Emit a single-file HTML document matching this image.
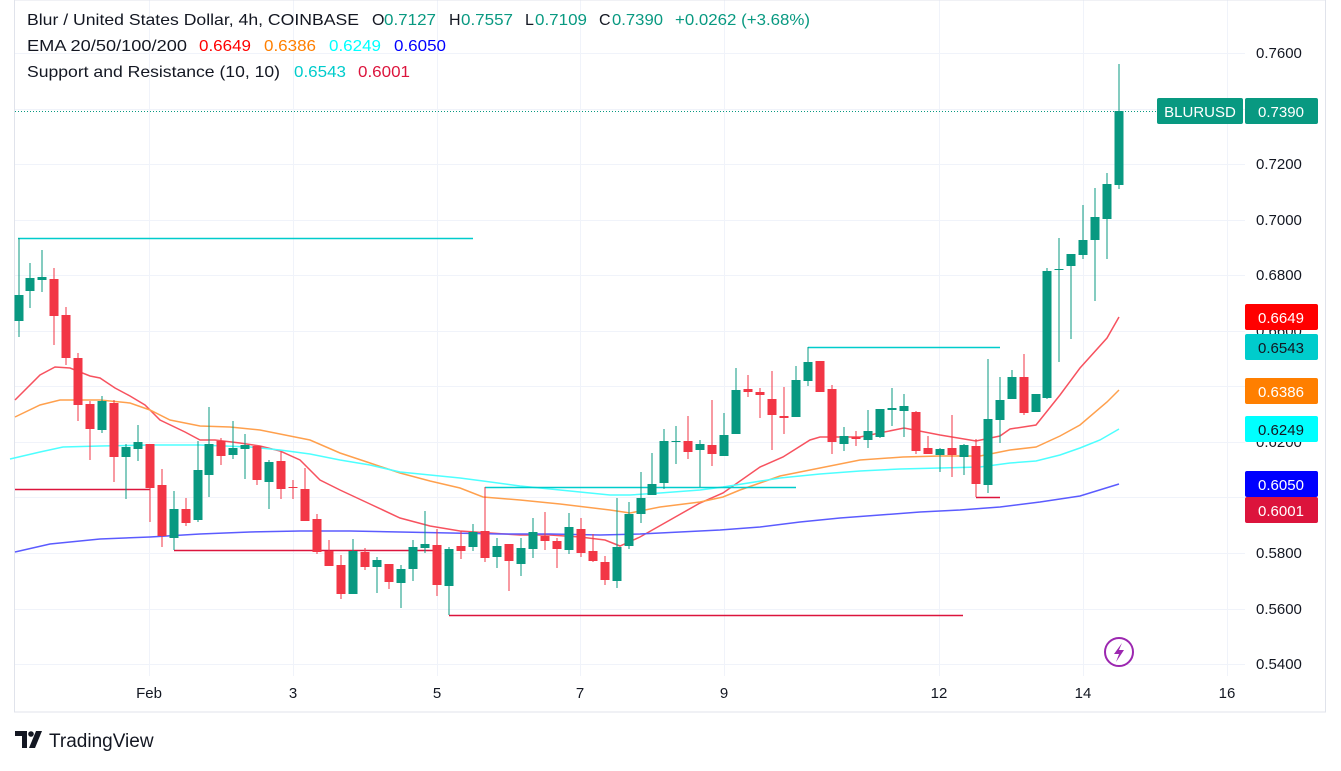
<!DOCTYPE html>
<html><head><meta charset="utf-8">
<style>
html,body{margin:0;padding:0;background:#fff;}
body{width:1341px;height:766px;overflow:hidden;font-family:"Liberation Sans",sans-serif;}
svg text{font-family:"Liberation Sans",sans-serif;}
</style></head>
<body>
<svg id="s" width="1341" height="766" xmlns="http://www.w3.org/2000/svg">
<rect x="0" y="0" width="1341" height="766" fill="#fff"/>
<g id="grid" stroke="#f0f3fa" stroke-width="1"></g>
<rect x="14.5" y="0" width="1311" height="712" fill="none" stroke="#e0e3eb"/>
<line x1="15" y1="111.5" x2="1157" y2="111.5" stroke="#089981" stroke-dasharray="1,2"/>
<g id="lines" fill="none" stroke-width="1.5"></g>
<g id="sr" stroke-width="1.5"></g>
<g id="candles"></g>
<g font-size="16" fill="#131722">
<text x="27" y="25" textLength="332" lengthAdjust="spacingAndGlyphs">Blur / United States Dollar, 4h, COINBASE</text>
<text x="372" y="25">O</text><text x="384" y="25" fill="#089981" textLength="52" lengthAdjust="spacingAndGlyphs">0.7127</text>
<text x="449" y="25">H</text><text x="461" y="25" fill="#089981" textLength="52" lengthAdjust="spacingAndGlyphs">0.7557</text>
<text x="525" y="25">L</text><text x="535" y="25" fill="#089981" textLength="52" lengthAdjust="spacingAndGlyphs">0.7109</text>
<text x="599" y="25">C</text><text x="612" y="25" fill="#089981" textLength="51" lengthAdjust="spacingAndGlyphs">0.7390</text>
<text x="675" y="25" fill="#089981" textLength="135" lengthAdjust="spacingAndGlyphs">+0.0262 (+3.68%)</text>
<text x="27" y="51" textLength="160" lengthAdjust="spacingAndGlyphs">EMA 20/50/100/200</text>
<text x="199" y="51" fill="#ff0000" textLength="52" lengthAdjust="spacingAndGlyphs">0.6649</text>
<text x="264" y="51" fill="#ff7f00" textLength="52" lengthAdjust="spacingAndGlyphs">0.6386</text>
<text x="329" y="51" fill="#00ffff" textLength="52" lengthAdjust="spacingAndGlyphs">0.6249</text>
<text x="394" y="51" fill="#0000ff" textLength="52" lengthAdjust="spacingAndGlyphs">0.6050</text>
<text x="27" y="77" textLength="253" lengthAdjust="spacingAndGlyphs">Support and Resistance (10, 10)</text>
<text x="294" y="77" fill="#00cccc" textLength="52" lengthAdjust="spacingAndGlyphs">0.6543</text>
<text x="358" y="77" fill="#dc143c" textLength="52" lengthAdjust="spacingAndGlyphs">0.6001</text>
</g>
<g id="axis" font-size="15" fill="#131722"></g>
<g font-size="15" fill="#131722" text-anchor="middle">
<text x="149" y="698">Feb</text><text x="293" y="698">3</text><text x="437" y="698">5</text><text x="580" y="698">7</text><text x="724" y="698">9</text><text x="939" y="698">12</text><text x="1083" y="698">14</text><text x="1227" y="698">16</text>
</g>
<rect x="1157" y="98" width="86" height="26" rx="2" fill="#089981"/>
<rect x="1245" y="98" width="73" height="26" rx="2" fill="#089981"/>
<text x="1200" y="117" font-size="15" fill="#fff" text-anchor="middle">BLURUSD</text>
<text x="1281" y="117" font-size="15" fill="#fff" text-anchor="middle">0.7390</text>
<g id="tags" font-size="15" text-anchor="middle"></g>
<circle cx="1119" cy="652" r="14" fill="#fff" stroke="#9c27b0" stroke-width="2"/>
<path d="M1122 643 L1114 654 L1119 654 L1116 662 L1124 650 L1119 650 Z" fill="#9c27b0"/>
<g transform="translate(15,731)" fill="#131722">
<path d="M0 0 H12 V17 H7 V5 H0 Z"/><circle cx="16" cy="3" r="2.8"/><path d="M21 0 H27 L20 17 H14 Z"/>
</g>
<text x="49" y="747" font-size="19" fill="#131722">TradingView</text>
</svg>
<script>
var NS="http://www.w3.org/2000/svg";
function el(p,t,a){var e=document.createElementNS(NS,t);for(var k in a)e.setAttribute(k,a[k]);p.appendChild(e);return e;}
var grid=document.getElementById('grid');
for(var i=0;i<12;i++){var y=Math.round(53+55.55*i)+0.5;el(grid,'line',{x1:15,x2:1245,y1:y,y2:y});}
[149,293,437,580,724,939,1083,1227].forEach(function(x){el(grid,'line',{x1:x+0.5,x2:x+0.5,y1:0,y2:676});});
var ax=document.getElementById('axis');
var labs=['0.7600','0.7400','0.7200','0.7000','0.6800','0.6600','0.6400','0.6200','0.6000','0.5800','0.5600','0.5400'];
labs.forEach(function(l,i){if(i==1)return;var t=el(ax,'text',{x:1256,y:Math.round(53+55.55*i)+5});t.textContent=l;});
var L=document.getElementById('lines');
function pl(c,pts){el(L,'polyline',{stroke:c,points:pts});}
pl('#f7525f',"15,400 40,375 55,367 70,368 90,376 100,378 115,388 130,396 145,405 160,420 185,432 200,440 215,440 240,443 260,446 280,451 300,460 320,480 340,490 370,504 400,518 430,526 460,531 490,533 520,535 550,535 580,537 605,540 620,546 640,537 670,520 700,503 723,493 760,467 783,457 810,440 820,437 860,437 904,428 940,435 976,441 1000,436 1010,429 1036,425 1060,395 1080,368 1107,338 1119,317");
pl('#ffa04d',"15,417 40,405 60,400 100,400 130,403 150,410 170,420 200,426 230,427 260,430 290,436 310,440 340,453 370,463 400,473 430,481 460,488 483,497 520,500 560,504 610,510 630,513 660,507 700,502 723,497 740,490 780,476 820,468 860,460 903,457 940,456 980,456 1010,450 1036,447 1060,436 1080,425 1107,402 1119,390");
pl('#4dffff',"10,459 40,452 63,447 100,446 150,445 200,445 250,447 280,450 310,454 340,460 370,465 400,472 430,475 460,478 483,481 520,486 560,490 610,495 630,495 660,493 700,490 723,487 780,478 820,474 860,471 900,469 940,468 980,467 1010,463 1036,461 1060,455 1080,448 1100,440 1119,429");
pl('#5b5bff',"15,552 50,544 100,539 150,537 200,534 250,532 300,531 350,531 400,532 450,533 500,534 550,534 600,535 640,534 680,532 720,530 760,527 800,522 840,518 880,515 920,512 960,510 1000,507 1040,502 1080,496 1119,484");
var SR=document.getElementById('sr');
[['#00cccc',18,473,238],['#00cccc',485,796,487],['#00cccc',808,1000,347],['#dc143c',15,150,489],['#dc143c',174,433,550],['#dc143c',449,963,615],['#dc143c',976,1000,497]].forEach(function(a){el(SR,'line',{stroke:a[0],x1:a[1],x2:a[2],y1:a[3]+0.5,y2:a[3]+0.5});});
var C=[[19,321,295,238,337],[30,291,278,263,308],[42,280,277,250,292],[54,279,316,268,345],[66,315,358,307,365],[78,358,405,353,421],[90,404,429,401,460],[102,430,401,396,433],[114,403,457,400,482],[126,457,447,444,499],[138,449,442,425,461],[150,444,488,444,522],[162,485,536,469,547],[174,538,509,491,550],[186,509,523,498,526],[198,520,470,441,522],[209,475,444,407,497],[221,441,456,438,465],[233,455,448,421,459],[245,449,445,434,479],[257,446,480,446,485],[269,482,462,460,509],[281,461,489,452,499],[293,487,488,480,499],[305,489,521,468,521],[317,519,552,514,554],[329,551,566,540,566],[341,565,594,555,599],[353,594,551,539,594],[365,552,567,548,570],[377,567,560,557,593],[389,564,582,564,589],[401,583,569,565,608],[413,569,547,540,581],[425,548,544,511,553],[437,545,585,529,596],[449,586,549,547,615],[461,546,551,531,559],[473,547,532,524,551],[485,531,558,487,562],[497,557,546,538,568],[509,544,561,544,591],[521,564,548,538,576],[533,549,532,518,558],[545,536,541,512,550],[557,541,549,538,568],[569,550,527,513,554],[581,529,553,518,557],[593,551,561,534,562],[605,562,580,556,585],[617,581,547,498,588],[629,546,514,502,549],[641,514,498,472,523],[652,495,484,453,495],[664,483,441,429,489],[676,442,441,426,464],[688,441,452,416,459],[700,450,444,440,487],[712,445,454,400,466],[724,456,435,413,456],[736,434,390,368,434],[748,389,392,375,397],[760,392,395,388,418],[772,399,415,371,450],[784,416,418,387,434],[796,417,380,366,417],[808,381,362,347,386],[820,361,392,361,392],[832,389,442,385,454],[844,444,436,427,451],[856,437,439,431,446],[868,440,431,410,448],[880,437,409,409,438],[892,410,408,388,426],[904,411,406,394,437],[916,412,451,411,454],[928,448,454,436,454],[940,455,449,448,472],[952,448,455,415,477],[964,457,445,444,475],[976,446,484,439,497],[988,485,419,359,493],[1000,420,400,377,443],[1012,399,377,370,399],[1024,377,413,354,415],[1036,412,394,394,412],[1047,398,271,268,399],[1059,270,269,238,362],[1071,266,254,254,339],[1083,255,240,205,259],[1095,240,217,188,301],[1107,219,184,173,259],[1119,185,111,64,189]];
var G=document.getElementById('candles');
C.forEach(function(c){var up=c[2]<c[1];var col=up?'#089981':'#f23645';
el(G,'line',{x1:c[0],x2:c[0],y1:c[3],y2:c[4],stroke:col,'stroke-width':1});
var t=Math.min(c[1],c[2]),h=Math.max(Math.abs(c[1]-c[2]),1);
el(G,'rect',{x:c[0]-4.5,y:t,width:9,height:h,fill:col});});
var T=document.getElementById('tags');
[['0.6649','#ff0000','#fff',304],['0.6543','#00cccc','#131722',334],['0.6386','#ff7f00','#fff',378],['0.6249','#00ffff','#131722',416],['0.6050','#0000ff','#fff',471],['0.6001','#dc143c','#fff',497]].forEach(function(a){
el(T,'rect',{x:1245,y:a[3],width:73,height:26,rx:2,fill:a[1]});var t=el(T,'text',{x:1281,y:a[3]+19,fill:a[2]});t.textContent=a[0];});
</script>
</body></html>
